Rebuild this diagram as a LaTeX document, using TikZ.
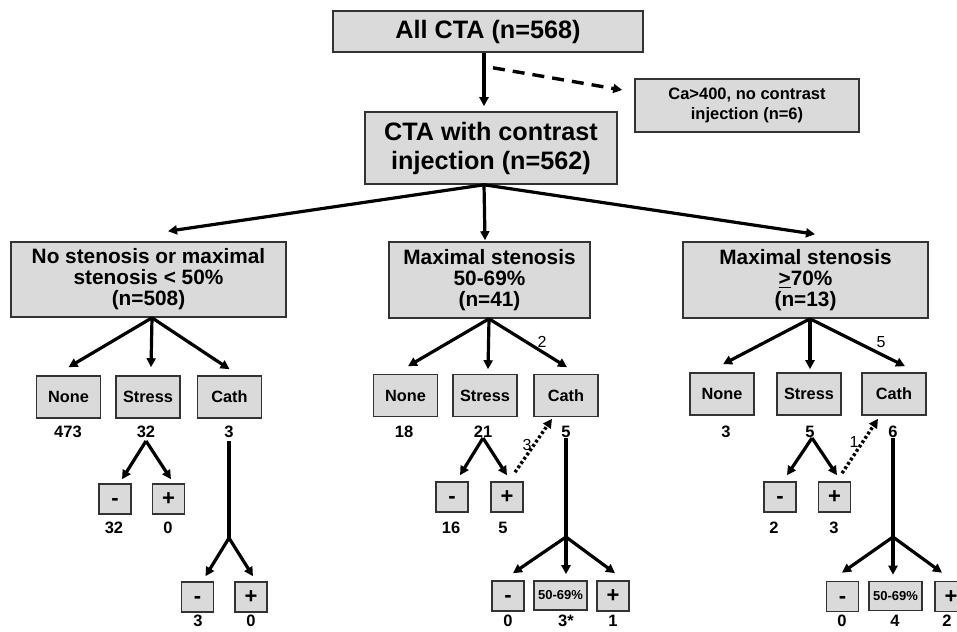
\documentclass[tikz,border=0pt]{standalone}
\usepackage{fontspec}
\setmainfont{Liberation Sans}
\usetikzlibrary{arrows.meta,calc}
\definecolor{boxfill}{HTML}{DADADA}
\definecolor{boxline}{HTML}{333333}
\begin{document}
\begin{tikzpicture}[x=1pt,y=-1pt,
  box/.style={draw=boxline,fill=boxfill,line width=1.6pt,inner sep=0pt,align=center},
  bigbox/.style={box,font={\fontsize{25.2}{29}\selectfont\bfseries}},
  midbox/.style={box,font={\fontsize{20.8}{21}\selectfont\bfseries}},
  cabox/.style={box,minimum width=224pt,minimum height=53pt,font={\fontsize{16.5}{20.5}\selectfont\bfseries}},
  sbox/.style={box,minimum width=64pt,minimum height=42pt,font={\fontsize{16.3}{19}\selectfont\bfseries}},
  pmbox/.style={box,minimum width=32pt,minimum height=30pt,text height=13pt,text depth=0pt,font={\fontsize{22}{22}\selectfont\bfseries}},
  pctbox/.style={box,minimum width=53pt,minimum height=29pt,font={\fontsize{13}{13}\selectfont\bfseries}},
  num/.style={inner sep=0pt,font={\fontsize{16.5}{16.5}\selectfont\bfseries}},
  lbl/.style={inner sep=0pt,font={\fontsize{16}{16}\selectfont}},
  tip/.style={-{Triangle[length=9pt,width=9pt]}},
  arr/.style={line width=3.2pt,tip},
  plain/.style={line width=3.4pt},
  dasharr/.style={line width=3.4pt,dash pattern=on 12pt off 8pt,tip},
  dotarr/.style={line width=3.4pt,dash pattern=on 2.8pt off 2.4pt,tip}]
\useasboundingbox (0,0) rectangle (957,631);
\clip (0,0) rectangle (957,631);

% top level
\node[bigbox,minimum width=310pt,minimum height=41pt] (all) at (488,31.5) {All CTA (n=568)};
\node[cabox] (ca) at (747,105.5) {Ca>400, no contrast\\injection (n=6)};
\node[bigbox,minimum width=252pt,minimum height=72pt] (cta) at (491,148) {CTA with contrast\\injection (n=562)};

% second level
\node[midbox,minimum width=275pt,minimum height=75pt] (lbox) at (148.5,279.5) {No stenosis or maximal\\stenosis < 50\%\\(n=508)};
\node[midbox,minimum width=201pt,minimum height=76pt] (mbox) at (489.5,280) {Maximal stenosis\\50-69\%\\(n=41)};
\node[midbox,minimum width=245pt,minimum height=76pt] (rbox) at (805.5,280) {Maximal stenosis\\\underline{>}70\%\\(n=13)};

% third level boxes
\node[sbox] (n1) at (68.5,397) {None};
\node[sbox] (s1) at (148,397) {Stress};
\node[sbox] (c1) at (229.5,397) {Cath};
\node[sbox] (n2) at (405.5,395.5) {None};
\node[sbox] (s2) at (485,395.5) {Stress};
\node[sbox] (c2) at (566,395.5) {Cath};
\node[sbox] (n3) at (722,394) {None};
\node[sbox] (s3) at (809,394) {Stress};
\node[sbox] (c3) at (894,394) {Cath};

% third level numbers
\node[num] (nn1) at (68,432) {473};
\node[num] (ns1) at (146,432) {32};
\node[num] (nc1) at (229,432) {3};
\node[num] (nn2) at (404,432) {18};
\node[num] (ns2) at (483,432) {21};
\node[num] (nc2) at (566,432) {5};
\node[num] (nn3) at (726,432) {3};
\node[num] (ns3) at (810,432) {5};
\node[num] (nc3) at (893,432) {6};

% stress outcomes
\node[pmbox] (m1) at (115,499) {-};
\node[pmbox] (p1) at (168.5,499) {+};
\node[num] at (114,528) {32};
\node[num] at (168,528) {0};
\node[pmbox] (m2) at (452,497) {-};
\node[pmbox] (p2) at (507,497) {+};
\node[num] at (451,528) {16};
\node[num] at (503,528) {5};
\node[pmbox] (m3) at (780,497) {-};
\node[pmbox] (p3) at (834.5,497) {+};
\node[num] at (774,528) {2};
\node[num] at (834,528) {3};

% cath outcomes
\node[pmbox] (m1c) at (197.5,597) {-};
\node[pmbox] (p1c) at (251,597) {+};
\node[num] at (198,621) {3};
\node[num] at (251,621) {0};
\node[pmbox] (m2c) at (508,596) {-};
\node[pctbox] (r2c) at (560.5,595.5) {50-69\%};
\node[pmbox] (p2c) at (613,596) {+};
\node[num] at (508,621) {0};
\node[num] at (566,621) {3*};
\node[num] at (613,621) {1};
\node[pmbox] (m3c) at (842.5,596.5) {-};
\node[pctbox] (r3c) at (895.5,596) {50-69\%};
\node[pmbox] (p3c) at (951,596.5) {+};
\node[num] at (842,621) {0};
\node[num] at (895,621) {4};
\node[num] at (947,621) {2};

% top connectors
\draw[arr] ($(all.south)+(-4,0)$) -- ($(cta.north)+(-7,-5)$);
\draw[dasharr] ($(all.south)+(5,15)$) -- ($(ca.west)+(-12,-15.5)$);
\coordinate (ctab) at ($(cta.south)+(-7,0)$);
\draw[arr] (ctab) -- ($(lbox.north)+(19.5,-10)$);
\draw[arr] (ctab) -- ($(mbox.north)+(-4.5,-1)$);
\draw[arr] (ctab) -- ($(rbox.north)+(9.5,-7)$);

% second to third level
\coordinate (lb) at ($(lbox.south)+(3.5,0)$);
\draw[arr] (lb) -- ($(n1.north)+(0,-8)$);
\draw[arr] (lb) -- ($(s1.north)+(3,-8)$);
\draw[arr] (lb) -- ($(c1.north)+(0,-6)$);
\coordinate (mb) at ($(mbox.south)+(-0.5,0)$);
\draw[arr] (mb) -- ($(n2.north)+(2.5,-7.5)$);
\draw[arr] (mb) -- ($(s2.north)+(3,-4.5)$);
\draw[arr] (mb) -- ($(c2.north)+(1,-6.5)$);
\node[lbl] at (542,342) {2};
\coordinate (rb) at ($(rbox.south)+(4.5,0)$);
\draw[arr] (rb) -- ($(n3.north)+(1,-8)$);
\draw[arr] (rb) -- ($(s3.north)+(1,-3)$);
\draw[arr] (rb) -- ($(c3.north)+(11,-6)$);
\node[lbl] at (881,342) {5};

% stress branches
\coordinate (sa1) at ($(ns1)+(0,9)$);
\draw[arr] (sa1) -- ($(m1.north)+(7,-4)$);
\draw[arr] (sa1) -- ($(p1.north)+(2.5,-4)$);
\coordinate (sa2) at ($(ns2)+(0,6)$);
\draw[arr] (sa2) -- ($(m2.north)+(8,-6)$);
\draw[arr] (sa2) -- ($(p2.north)+(0,-6)$);
\coordinate (sa3) at ($(ns3)+(2,6)$);
\draw[arr] (sa3) -- ($(m3.north)+(7,-6)$);
\draw[arr] (sa3) -- ($(p3.north)+(2.5,-6)$);

% dotted crossovers
\draw[dotarr] ($(p2.north)+(8,-9)$) -- ($(c2.south)+(-14,1.5)$);
\node[lbl] at (527,445) {3};
\draw[dotarr] ($(p3.north)+(7.5,-8)$) -- ($(c3.south)+(-16,3)$);
\node[lbl] at (854,442) {1};

% cath branches
\coordinate (ct1) at ($(nc1)+(0,9)$);
\coordinate (cb1) at (229,538);
\draw[plain] (ct1) -- (cb1);
\draw[arr] (cb1) -- ($(m1c.north)+(8,-5)$);
\draw[arr] (cb1) -- ($(p1c.north)+(2,-5)$);
\coordinate (ct2) at ($(nc2)+(0,6)$);
\coordinate (cb2) at (566,537);
\draw[plain] (ct2) -- (cb2);
\draw[arr] (cb2) -- ($(m2c.north)+(5,-7)$);
\draw[arr] (cb2) -- ($(r2c.north)+(5.5,-6)$);
\draw[arr] (cb2) -- ($(p2c.north)+(2,-7)$);
\coordinate (ct3) at ($(nc3)+(0,6)$);
\coordinate (cb3) at (893,537);
\draw[plain] (ct3) -- (cb3);
\draw[arr] (cb3) -- ($(m3c.north)+(-0.5,-8)$);
\draw[arr] (cb3) -- ($(r3c.north)+(-2.5,-6)$);
\draw[arr] (cb3) -- ($(p3c.north)+(-9,-8)$);
\end{tikzpicture}
\end{document}
